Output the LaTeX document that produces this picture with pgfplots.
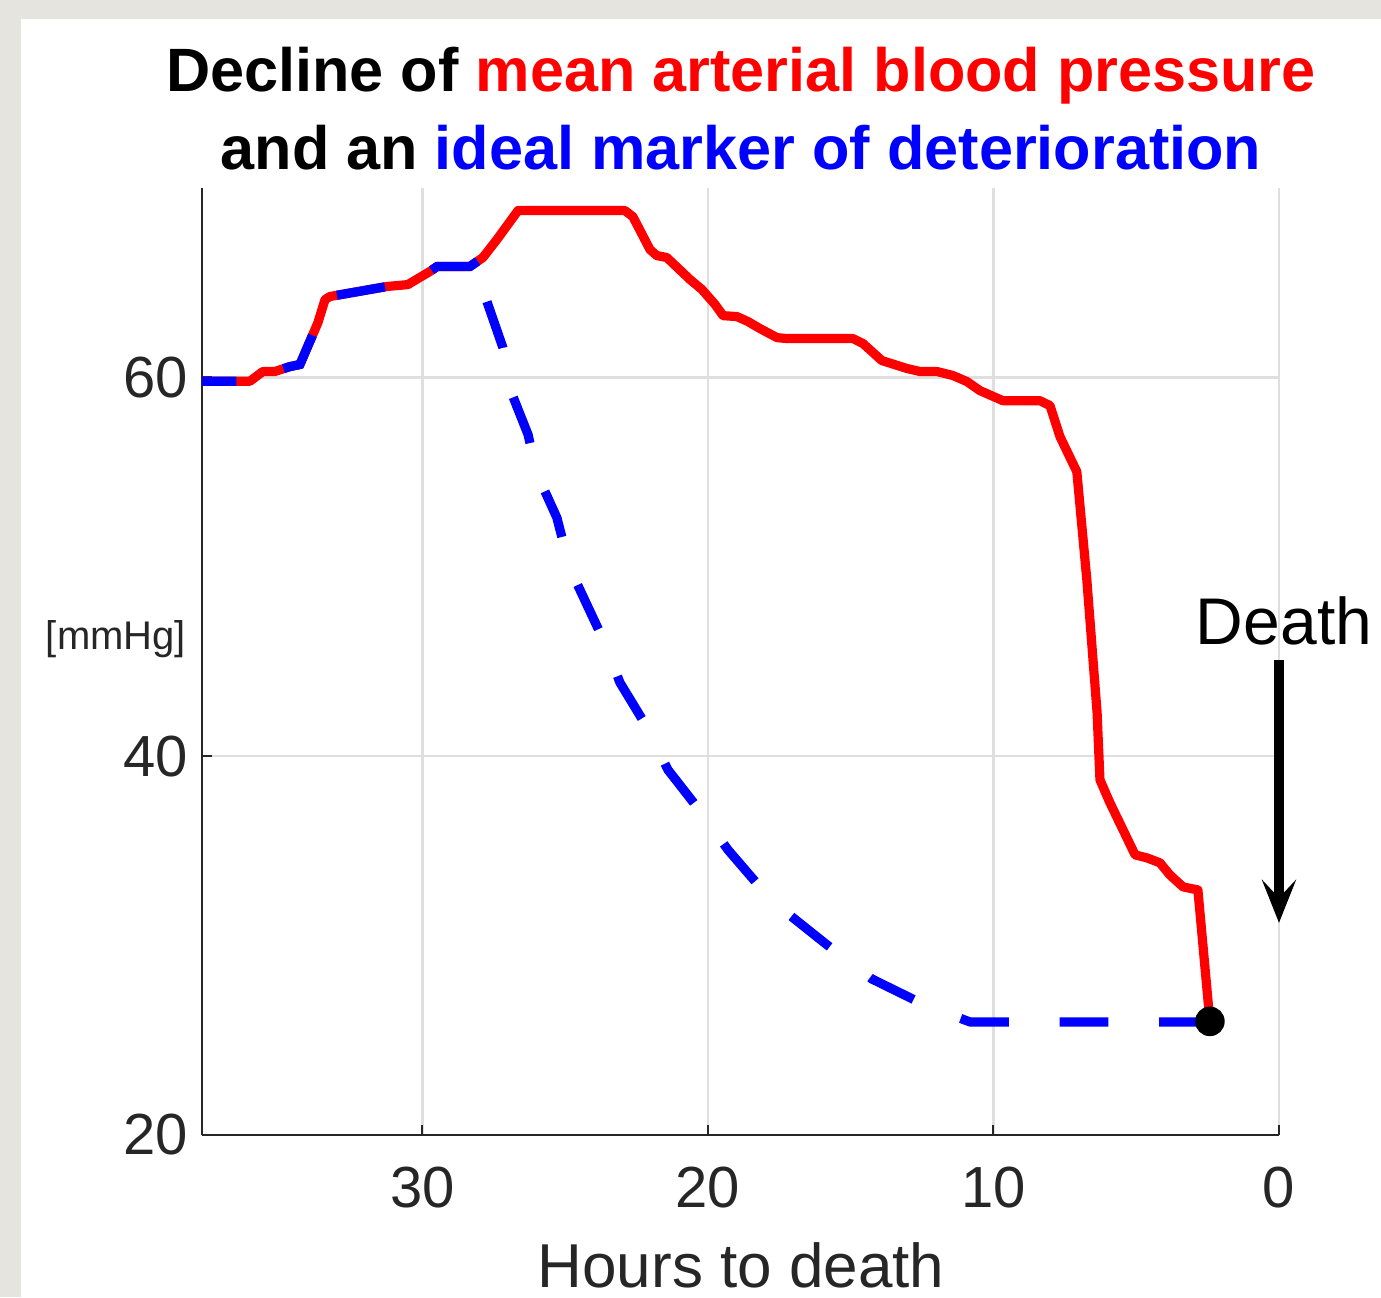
\documentclass[border=0pt]{standalone}
\usepackage{pgfplots}
\pgfplotsset{compat=1.18}
\usepackage{pgfplotstable}
\usepackage{fontspec}
\setmainfont{Liberation Sans}
\usetikzlibrary{arrows.meta}
\definecolor{bggray}{RGB}{229,228,223}
\definecolor{axgray}{RGB}{38,38,38}
\definecolor{gridgray}{RGB}{223,223,223}
\definecolor{mred}{RGB}{255,0,0}
\definecolor{mblue}{RGB}{0,0,255}

\pgfplotstableread{
x y
37.72 59.80
36.39 59.80
36.04 59.80
35.59 60.31
35.17 60.31
34.64 60.57
34.29 60.68
33.66 62.89
33.41 64.11
33.24 64.27
31.24 64.80
30.51 64.90
29.74 65.59
29.49 65.85
28.34 65.85
27.88 66.33
27.39 67.28
26.65 68.81
22.91 68.81
22.63 68.49
22.03 66.75
21.79 66.43
21.44 66.33
20.63 65.17
20.21 64.64
19.75 63.85
19.47 63.26
18.98 63.21
18.60 62.95
18.18 62.58
17.58 62.10
17.23 62.05
14.92 62.05
14.57 61.79
13.91 60.89
13.03 60.47
12.57 60.31
11.98 60.31
11.42 60.10
10.93 59.78
10.47 59.30
9.67 58.77
8.37 58.77
8.02 58.51
7.67 56.87
7.08 55.02
6.73 49.32
6.37 42.29
6.27 38.75
5.92 37.54
5.04 34.79
4.62 34.63
4.17 34.37
3.82 33.73
3.36 33.10
2.84 32.94
2.42 26.00
}\mapdata

\pgfplotstableread{
x y
37.72 59.80
36.39 59.80
36.04 59.80
35.59 60.31
35.17 60.31
34.64 60.57
34.29 60.68
33.66 62.89
33.41 64.11
33.24 64.27
31.24 64.80
30.51 64.90
29.74 65.59
29.49 65.85
28.34 65.85
27.88 66.33
27.74 64.00
27.18 61.57
26.94 59.41
26.30 56.98
25.99 54.92
25.29 52.59
24.83 49.90
23.68 46.20
23.08 43.88
22.14 41.55
21.40 39.28
20.28 37.12
19.30 35.06
17.76 32.36
15.83 30.04
14.26 28.24
12.33 26.81
10.82 25.97
2.42 25.97
}\idealdata

\begin{document}
\begin{tikzpicture}
\useasboundingbox (0,0) rectangle (345.25pt,324.25pt);
\fill[bggray] (0,0) rectangle (345.25pt,324.25pt);
\fill[white] (5.25pt,0) rectangle (345.25pt,319.5pt);
\begin{axis}[
  at={(50.5pt,40.5pt)}, anchor=south west,
  scale only axis, width=269.25pt, height=236.75pt,
  x dir=reverse, xmin=0, xmax=37.72, ymin=20, ymax=70,
  xtick={0,10,20,30}, ytick={20,40,60},
  axis x line*=bottom, axis y line*=left,
  axis line style={-, axgray, line width=0.5pt},
  tick style={axgray, line width=0.5pt},
  tick align=inside, major tick length=2.5pt,
  grid=major, grid style={gridgray, line width=0.6pt},
  ticklabel style={font=\fontsize{14.5}{16}\selectfont, text=axgray},
  /pgf/number format/assume math mode=true,
  xticklabel shift=4.5pt, yticklabel shift=0pt,
  clip=false,
]
\addplot[mred, line width=2.3pt, line join=round, no marks] table[x=x,y=y] {\mapdata};
\addplot[mblue, line width=2.3pt, line cap=butt, no marks, dash pattern=on 12.2pt off 12.7pt, dash phase=3.62pt] table[x=x,y=y] {\idealdata};
\addplot[black, only marks, mark=*, mark size=3.5pt] coordinates {(2.42,26.0)};
\draw[black, line width=2.5pt, -{Stealth[length=10.75pt, width=8.5pt, inset=4.5pt]}] (axis cs:0,45.09) -- (axis cs:0,31.2);
\end{axis}
\node[anchor=base, font=\bfseries\fontsize{15.3}{19}\selectfont] at (185.25pt,301.3pt) {Decline of \textcolor{mred}{mean arterial blood pressure}};
\node[anchor=base, font=\bfseries\fontsize{15.3}{19}\selectfont] at (185.25pt,281.75pt) {and an \textcolor{mblue}{ideal marker of deterioration}};
\node[anchor=base, font=\fontsize{15.5}{18}\selectfont, text=axgray] at (185.25pt,2.5pt) {Hours to death};
\node[anchor=base, font=\fontsize{10}{12}\selectfont, text=axgray] at (29pt,161.75pt) {[mmHg]};
\node[anchor=base, font=\fontsize{16.5}{19}\selectfont] at (321pt,163pt) {Death};
\end{tikzpicture}
\end{document}
